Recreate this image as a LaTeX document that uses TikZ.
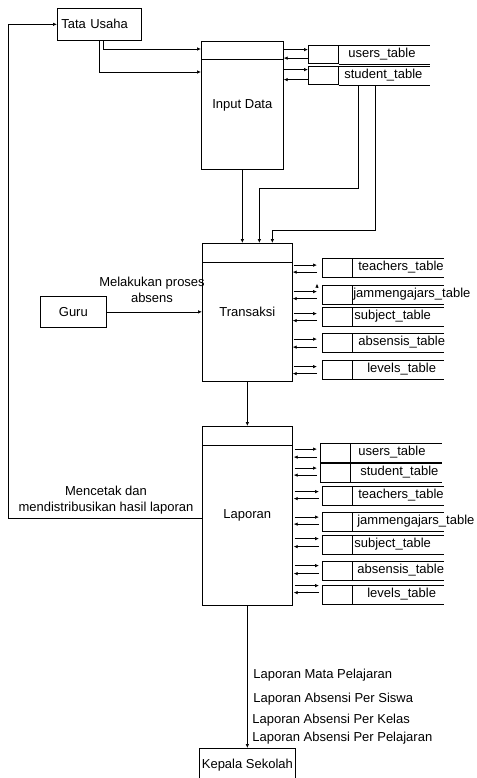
\documentclass[tikz,border=0pt]{standalone}
\usepackage{fontspec}
\setmainfont{Liberation Sans}
\usetikzlibrary{arrows.meta,calc}

\begin{document}
\begin{tikzpicture}[x=1pt, y=-1pt, line width=0.7pt, >={Latex[length=4pt,width=3.5pt]},
    font=\fontsize{13}{16}\selectfont,
    entitas/.style={draw, anchor=north west, inner sep=4pt},
    proses/.style={draw, anchor=north west, inner sep=0pt,
      path picture={\draw ([yshift=-18.5pt]path picture bounding box.north west) -- ([yshift=-18.5pt]path picture bounding box.north east);}},
    tabel/.style={draw, anchor=north west, minimum width=30pt, minimum height=18.5pt, inner sep=0pt},
    teks/.style={inner sep=0pt}]
  \useasboundingbox (0,0) rectangle (476,778);

  \node[entitas, minimum width=84pt, minimum height=32pt, text width=76pt, align=left] (tatausaha) at (57,8) {Tata Usaha};
  \node[entitas, minimum width=66pt, minimum height=31pt] (guru) at (40,296) {Guru};
  \node[entitas, minimum width=96pt, minimum height=34pt, inner xsep=2.5pt] (kepsek) at (199,748) {Kepala Sekolah};

  \node[proses, minimum width=82pt, minimum height=128pt] (input) at (201,41) {Input Data};
  \node[proses, minimum width=90pt, minimum height=138pt] (trans) at (202,243) {Transaksi};
  \node[proses, minimum width=90pt, minimum height=179pt] (lap) at (202,426) {Laporan};

  \foreach \nm/\xl/\yt/\xt/\da/\db/\lbl in {iu/308/45/348/-5/3.5/users\_table, is/308/66/344/-6/4/student\_table}{
    \node[tabel] (\nm) at (\xl,\yt) {};
    \draw (\nm.north east) -- ++(91,0) (\nm.south east) -- ++(91,0);
    \node[teks, anchor=west] (\nm-t) at (\xt,\yt+9.25) {\lbl};
    \draw[->] ($(\nm.west -| input.east)+(0,\da)$) -- ($(\nm.west)+(0,\da)$);
    \draw[->] ($(\nm.west)+(0,\db)$) -- ($(\nm.west -| input.east)+(0,\db)$);
  }

  \foreach \nm/\xl/\yt/\xt/\da/\db/\lbl in {tt/322/258/358/-2.5/4.5/teachers\_table, tj/322/285/353/-3/4/jammengajars\_table,
      tsu/322/307/354/-3/4/subject\_table, ta/322/333/358/-3.5/4.5/absensis\_table, tl/322/360/367/-3/4/levels\_table}{
    \node[tabel] (\nm) at (\xl,\yt) {};
    \draw (\nm.north east) -- ++(91,0) (\nm.south east) -- ++(91,0);
    \node[teks, anchor=west] (\nm-t) at (\xt,\yt+9.25) {\lbl};
    \draw[->] ($(\nm.west -| trans.east)+(1,\da)$) -- ($(\nm.west)+(-5,\da)$);
    \draw[->] ($(\nm.west)+(-5,\db)$) -- ($(\nm.west -| trans.east)+(0,\db)$);
  }
  \draw[->] ($(tj.west)+(-5,-6.5)$) -- ++(0,-4.5);

  \foreach \nm/\xl/\yt/\xt/\da/\db/\lbl in {lu/320/443/358/-3.5/4.5/users\_table, ls/320/463/360/-4.5/2.5/student\_table,
      lt/322/486/358/-4/3/teachers\_table, lj/322/512/357/-4.5/2.5/jammengajars\_table, lsu/322/535/354/-6/2/subject\_table,
      la/322/561/357/-5/3/absensis\_table, ll/322/585/367/-9/-2/levels\_table}{
    \node[tabel] (\nm) at (\xl,\yt) {};
    \draw (\nm.north east) -- ++(91,0) (\nm.south east) -- ++(91,0);
    \node[teks, anchor=west] (\nm-t) at (\xt,\yt+9.25) {\lbl};
    \draw[->] ($(\nm.west -| lap.east)+(2,\da)$) -- ($(\nm.west)+(-3,\da)$);
    \draw[->] ($(\nm.west)+(-3,\db)$) -- ($(\nm.west -| lap.east)+(1,\db)$);
  }

  \draw[->] ([xshift=4pt]tatausaha.south) |- ($(input.north west)+(0,8)$);
  \draw[->] (tatausaha.south) |- ($(input.north west)+(0,31)$);
  \draw[->] (input.south) -- (input.south |- trans.north);
  \draw[->] ($(is.south west)+(50,0)$) |- ($(trans.north)+(12,-55)$) -- ($(trans.north)+(12,0)$);
  \draw[->] ($(is.south west)+(67,0)$) |- ($(trans.north)+(25,-13)$) -- ($(trans.north)+(25,0)$);
  \draw[->] (guru.east) -- (guru.east -| trans.west);
  \node[teks, align=center] (lbl-absen) at (152,289.5) {Melakukan proses\\absens};
  \draw[->] (trans.south) -- (lap.north);
  \draw[->] ($(lap.west)+(0,2.5)$) -- ++(-194,0) |- (tatausaha.west);
  \node[teks, align=center] (lbl-cetak) at (106,500.5) {Mencetak dan\\mendistribusikan hasil laporan};
  \draw[->] (lap.south) -- (lap.south |- kepsek.north);

  \foreach \lbl/\xp/\yp [count=\i] in {Laporan Mata Pelajaran/253/675, Laporan Absensi Per Siswa/253/699,
      Laporan Absensi Per Kelas/252/720, Laporan Absensi Per Pelajaran/252/738}
    \node[teks, anchor=west] (lp\i) at (\xp,\yp) {\lbl};
\end{tikzpicture}
\end{document}
